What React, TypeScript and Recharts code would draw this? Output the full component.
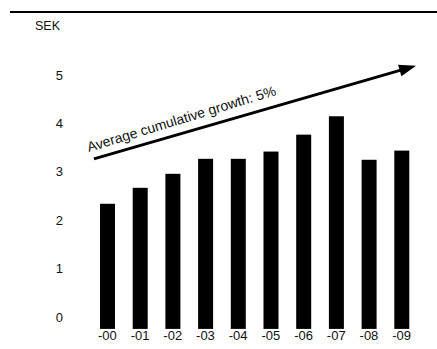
import React from 'react';
import { BarChart, Bar, XAxis, YAxis, ReferenceLine } from 'recharts';

const years = ['-00', '-01', '-02', '-03', '-04', '-05', '-06', '-07', '-08', '-09'];
const dividends = [2.34, 2.67, 2.96, 3.27, 3.27, 3.42, 3.77, 4.15, 3.25, 3.44];
const yTicks = [0, 1, 2, 3, 4, 5];
const trendFrom = 3.35;
const trendTo = 5.11;
const trendText = 'Average cumulative growth: 5%';
const unitText = 'SEK';

const data = years.map((year, i) => ({ year, value: dividends[i] }));

const FONT = '"Liberation Sans", Arial, sans-serif';

// bars in the original run a little below the zero tick
const BarToFloor = (props: any) => {
  const { x, y, width, height, fill } = props;
  return <rect x={x} y={y} width={width} height={height + 12} fill={fill} />;
};

const TrendArrow = (props: any) => {
  const { x1, y1, x2, y2 } = props;
  const dx = x2 - x1;
  const dy = y2 - y1;
  const len = Math.hypot(dx, dy) || 1;
  const ux = dx / len;
  const uy = dy / len;
  const sx = x1 - ux * 14;
  const sy = y1 - uy * 14;
  const ex = x2 + ux * 15;
  const ey = y2 + uy * 15;
  const head = 17;
  const half = 6;
  const bx = ex - ux * head;
  const by = ey - uy * head;
  const nx = -uy;
  const ny = ux;
  const angle = (Math.atan2(dy, dx) * 180) / Math.PI;
  return (
    <g>
      <line x1={sx} y1={sy} x2={bx + ux * 2} y2={by + uy * 2} stroke="#000" strokeWidth={3} />
      <polygon
        points={`${ex},${ey} ${bx + nx * half},${by + ny * half} ${bx - nx * half},${by - ny * half}`}
        fill="#000"
      />
      <text
        x={sx - 3}
        y={sy - 8}
        transform={`rotate(${angle - 0.8} ${sx} ${sy})`}
        fontFamily={FONT}
        fontSize={14}
        fill="#111"
      >
        {trendText}
      </text>
    </g>
  );
};

export default function App() {
  return (
    <div style={{ position: 'absolute', left: 0, top: 0, width: 437, height: 349, background: '#fff' }}>
      <div style={{ position: 'absolute', left: 10, top: 11, width: 427, height: 2, background: '#000' }} />
      <div
        style={{
          position: 'absolute',
          left: 35,
          top: 19,
          fontFamily: FONT,
          fontSize: 12.5,
          color: '#111',
          lineHeight: '14px',
        }}
      >
        {unitText}
      </div>
      <BarChart width={437} height={349} data={data} margin={{ top: 51, right: 19, bottom: 0, left: 0 }}>
        <XAxis
          dataKey="year"
          axisLine={false}
          tickLine={false}
          tickSize={0}
          tickMargin={2}
          height={20}
          interval={0}
          tick={{ fontFamily: FONT, fontSize: 13, fill: '#111' }}
        />
        <YAxis
          type="number"
          domain={[-0.25, 5.5]}
          ticks={yTicks}
          axisLine={false}
          tickLine={false}
          tickSize={0}
          tickMargin={28}
          width={91}
          tick={{ fontFamily: FONT, fontSize: 13, fill: '#111' }}
        />
        <Bar dataKey="value" fill="#000" barSize={15} shape={BarToFloor} isAnimationActive={false} />
        <ReferenceLine
          segment={[
            { x: years[0], y: trendFrom },
            { x: years[years.length - 1], y: trendTo },
          ]}
          ifOverflow="visible"
          shape={(p: any) => <TrendArrow {...p} />}
        />
      </BarChart>
    </div>
  );
}
